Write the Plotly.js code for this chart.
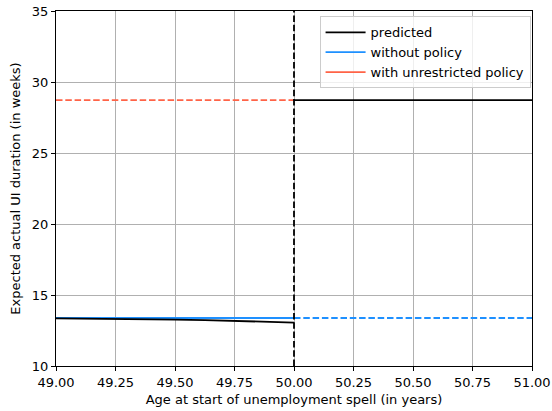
<!DOCTYPE html>
<html>
<head>
<meta charset="utf-8">
<script src="https://cdn.plot.ly/plotly-3.0.1.min.js"></script>
<style>html,body{margin:0;padding:0;background:#fff}#chart{width:552px;height:411px}</style>
</head>
<body>
<div id="chart"></div>
<script>
// Data
const cutoff = 50;
const leftAge = [49.0, 49.125, 49.25, 49.375, 49.5, 49.625, 49.75, 49.875, 50.0];
const predictedLeft = [13.36, 13.35, 13.33, 13.31, 13.27, 13.23, 13.17, 13.11, 13.06];
const rightAge = [50.0, 51.0];
const predictedRight = [28.72, 28.72];
const withoutPolicyAge = [49.0, 50.0];
const withoutPolicy = [13.38, 13.38];
const withoutPolicyExtAge = [50.0, 51.0];
const withoutPolicyExt = [13.38, 13.38];
const unrestrictedAge = [49.0, 50.0];
const unrestricted = [28.72, 28.72];
const xTicks = [49.0, 49.25, 49.5, 49.75, 50.0, 50.25, 50.5, 50.75, 51.0];
const xTickLabels = ["49.00","49.25","49.50","49.75","50.00","50.25","50.50","50.75","51.00"];
const yTicks = [10, 15, 20, 25, 30, 35];

const BLACK = "#000000", BLUE = "#1e90ff", RED = "#ff6347";
const LW = 1.8;
const DASH = "6.5px,2.8px";
const FS = 13;

const data = [
  {x: withoutPolicyAge, y: withoutPolicy, mode: "lines", name: "without policy", showlegend: false,
   line: {color: BLUE, width: LW}},
  {x: withoutPolicyExtAge, y: withoutPolicyExt, mode: "lines", showlegend: false,
   line: {color: BLUE, width: LW, dash: DASH}},
  {x: unrestrictedAge, y: unrestricted, mode: "lines", showlegend: false,
   line: {color: RED, width: LW, dash: DASH}},
  {x: leftAge, y: predictedLeft, mode: "lines", showlegend: false,
   line: {color: BLACK, width: LW}},
  {x: rightAge, y: predictedRight, mode: "lines", showlegend: false,
   line: {color: BLACK, width: LW}},
  // legend entries (solid line samples, as in the reference legend)
  {x: [null], y: [null], mode: "lines", name: "predicted", line: {color: BLACK, width: LW}, legendrank: 1},
  {x: [null], y: [null], mode: "lines", name: "without policy", line: {color: BLUE, width: LW}, legendrank: 2},
  {x: [null], y: [null], mode: "lines", name: "with unrestricted policy", line: {color: RED, width: LW}, legendrank: 3}
];

const axisCommon = {
  showline: true, linecolor: "#000", linewidth: 1, mirror: true,
  ticks: "outside", ticklen: 4, tickwidth: 1, tickcolor: "#000",
  showgrid: true, gridcolor: "#b0b0b0", gridwidth: 1,
  zeroline: false,
  tickfont: {family: "DejaVu Sans", size: FS, color: "#000"}
};

const layout = {
  width: 552, height: 411,
  margin: {l: 56, r: 20, t: 11, b: 45},
  paper_bgcolor: "#fff", plot_bgcolor: "#fff",
  font: {family: "DejaVu Sans", size: FS, color: "#000"},
  xaxis: Object.assign({}, axisCommon, {
    range: [49, 51], tickmode: "array", tickvals: xTicks, ticktext: xTickLabels,
    title: {text: "Age at start of unemployment spell (in years)", font: {family: "DejaVu Sans", size: FS, color: "#000"}, standoff: 6}
  }),
  yaxis: Object.assign({}, axisCommon, {
    range: [10, 35], tickmode: "array", tickvals: yTicks,
    title: {text: "Expected actual UI duration (in weeks)", font: {family: "DejaVu Sans", size: FS, color: "#000"}, standoff: 8}
  }),
  showlegend: true,
  legend: {
    x: 0.997, y: 0.985, xanchor: "right", yanchor: "top",
    bgcolor: "rgba(255,255,255,0.8)", bordercolor: "#cccccc", borderwidth: 1,
    font: {family: "DejaVu Sans", size: FS, color: "#000"},
    tracegroupgap: 0, itemwidth: 40
  },
  shapes: [{
    type: "line", xref: "x", yref: "paper", x0: cutoff, x1: cutoff, y0: 0, y1: 1,
    line: {color: BLACK, width: LW, dash: DASH}
  }]
};

Plotly.newPlot("chart", data, layout, {staticPlot: true, displayModeBar: false});
</script>
</body>
</html>
